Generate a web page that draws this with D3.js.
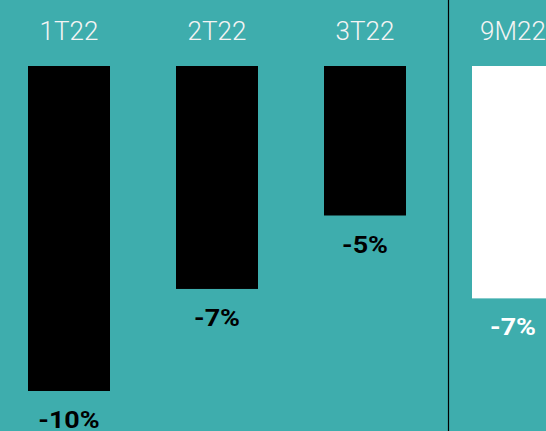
<!DOCTYPE html>
<html><head><meta charset="utf-8">
<script src="https://cdn.jsdelivr.net/npm/d3@7"></script>
<style>html,body{margin:0;padding:0;background:#3eadad;overflow:hidden}</style>
</head><body>
<svg id="c" width="546" height="431"></svg>
<script>
const categories = ["1T22","2T22","3T22","9M22"];
const values = [-10.0, -6.86, -4.6, -7.15];
const labels = ["-10%","-7%","-5%","-7%"];
const barColors = ["#000000","#000000","#000000","#ffffff"];
const labelColors = ["#000000","#000000","#000000","#ffffff"];

const svg = d3.select("#c");
svg.append("rect").attr("width",546).attr("height",431).attr("fill","#3eadad");

const x = d3.scaleBand().domain(categories).range([28, 554]).paddingInner(66/148).paddingOuter(0);
const y = d3.scaleLinear().domain([0,-10]).range([66,391]);

const data = categories.map((c,i)=>({c, v:values[i], l:labels[i], bc:barColors[i], lc:labelColors[i]}));

svg.selectAll("rect.bar").data(data).join("rect").attr("class","bar")
  .attr("x", d=>x(d.c)).attr("y", y(0))
  .attr("width", x.bandwidth()).attr("height", d=>y(d.v)-y(0))
  .attr("fill", d=>d.bc);

svg.selectAll("text.cat").data(data).join("text").attr("class","cat")
  .attr("x", d=>x(d.c)+x.bandwidth()/2).attr("y", 39.5)
  .attr("text-anchor","middle")
  .attr("font-family","Roboto").attr("font-weight",300).attr("font-size",26)
  .attr("fill","#f4f4f4").text(d=>d.c);

svg.selectAll("text.val").data(data).join("text").attr("class","val")
  .attr("transform", d=>`translate(${x(d.c)+x.bandwidth()/2},${y(d.v)+37}) scale(1.17,1)`)
  .attr("text-anchor","middle")
  .attr("font-family","Roboto").attr("font-weight",700).attr("font-size",23)
  .attr("fill", d=>d.lc).text(d=>d.l);

const divX = x("9M22") - 23.5;
svg.append("line").attr("x1",divX).attr("x2",divX).attr("y1",0).attr("y2",431)
  .attr("stroke","#000").attr("stroke-width",1.2);
</script>
</body></html>
